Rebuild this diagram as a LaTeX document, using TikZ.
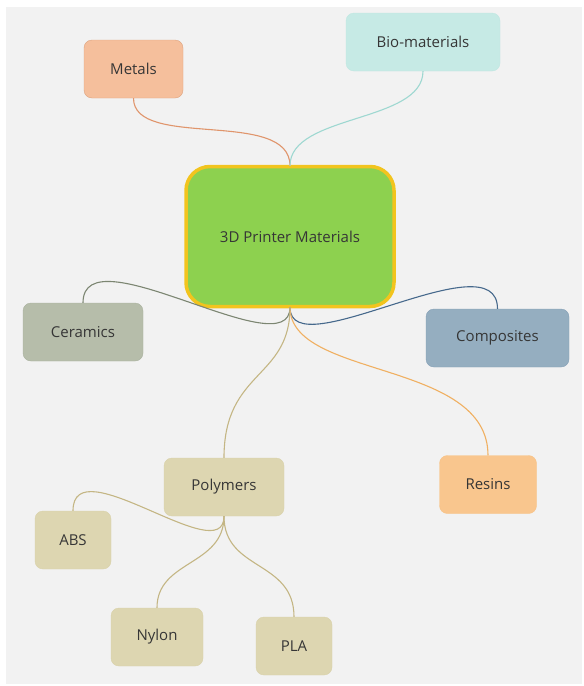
\documentclass[tikz,border=0pt]{standalone}
\usepackage{fontspec}
\setmainfont{Open Sans}
\definecolor{bg}{HTML}{F2F2F2}
\definecolor{txt}{HTML}{363636}
\definecolor{metfill}{HTML}{F5BF9C}
\definecolor{metline}{HTML}{E0956C}
\definecolor{biofill}{HTML}{C6EAE5}
\definecolor{bioline}{HTML}{9ED8D1}
\definecolor{cenfill}{HTML}{8DD14F}
\definecolor{cenline}{HTML}{F2C41E}
\definecolor{cerfill}{HTML}{B6BDAA}
\definecolor{cerline}{HTML}{7C8672}
\definecolor{comfill}{HTML}{95AEC0}
\definecolor{comline}{HTML}{46698C}
\definecolor{resfill}{HTML}{F9C68E}
\definecolor{resline}{HTML}{F0B062}
\definecolor{polfill}{HTML}{DDD6B1}
\definecolor{polline}{HTML}{C4B684}
\tikzset{
  topic/.style={rounded corners=8pt, text=txt, font=\fontsize{15}{18}\selectfont,
    inner sep=0pt, anchor=center},
  branch/.style={line width=1.1pt},
}
\begin{document}
\begin{tikzpicture}[x=1pt,y=-1pt]
\useasboundingbox (0,0) rectangle (584,686);
\fill[white] (0,0) rectangle (584,686);
\fill[bg] (6,7) rectangle (582,684);

% nodes
\node[topic, fill=cenfill, draw=cenline, line width=3.5pt, rounded corners=24pt,
  minimum width=208pt, minimum height=140pt] (cen) at (290,236.5) {3D Printer Materials};
\node[topic, fill=metfill, draw=metfill!90!black!60!metline, minimum width=99pt, minimum height=58pt] (met) at (133.5,69) {Metals};
\node[topic, fill=biofill, draw=biofill!85!bioline, minimum width=154pt, minimum height=58pt] (bio) at (423,42) {Bio-materials};
\node[topic, fill=cerfill, draw=cerfill!80!cerline, minimum width=120pt, minimum height=58pt] (cer) at (83,332) {Ceramics};
\node[topic, fill=comfill, draw=comfill!80!comline, minimum width=143pt, minimum height=58pt] (com) at (497.5,338) {Composites};
\node[topic, fill=resfill, draw=resfill!85!resline, minimum width=97pt, minimum height=58pt] (res) at (488,484.5) {Resins};
\node[topic, fill=polfill, draw=polfill!85!polline, minimum width=120pt, minimum height=58pt] (pol) at (224,487) {Polymers};
\node[topic, fill=polfill, draw=polfill!85!polline, minimum width=76pt, minimum height=58pt] (abs) at (73,540) {ABS};
\node[topic, fill=polfill, draw=polfill!85!polline, minimum width=92pt, minimum height=58pt] (nyl) at (157,637) {Nylon};
\node[topic, fill=polfill, draw=polfill!85!polline, minimum width=76pt, minimum height=58pt] (pla) at (294,646) {PLA};

% connectors
\draw[branch, metline] (met.south) .. controls +(0,52) and +(0,-58) .. ([yshift=-1pt]cen.north);
\draw[branch, bioline] (bio.south) .. controls +(0,52) and +(0,-52) .. ([yshift=-1pt]cen.north);
\draw[branch, cerline] ([yshift=1pt]cen.south) .. controls +(0,62) and +(0,-72) .. (cer.north);
\draw[branch, comline] ([yshift=1pt]cen.south) .. controls +(0,62) and +(0,-72) .. (com.north);
\draw[branch, resline] ([yshift=1pt]cen.south) .. controls +(0,72) and +(0,-96) .. (res.north);
\draw[branch, polline] ([yshift=1pt]cen.south) .. controls +(0,72) and +(0,-88) .. (pol.north);
\draw[branch, polline] (pol.south) .. controls +(0,55) and +(0,-65) .. (abs.north);
\draw[branch, polline] (pol.south) .. controls +(0,50) and +(0,-48) .. (nyl.north);
\draw[branch, polline] (pol.south) .. controls +(0,55) and +(0,-57) .. (pla.north);
\end{tikzpicture}
\end{document}
